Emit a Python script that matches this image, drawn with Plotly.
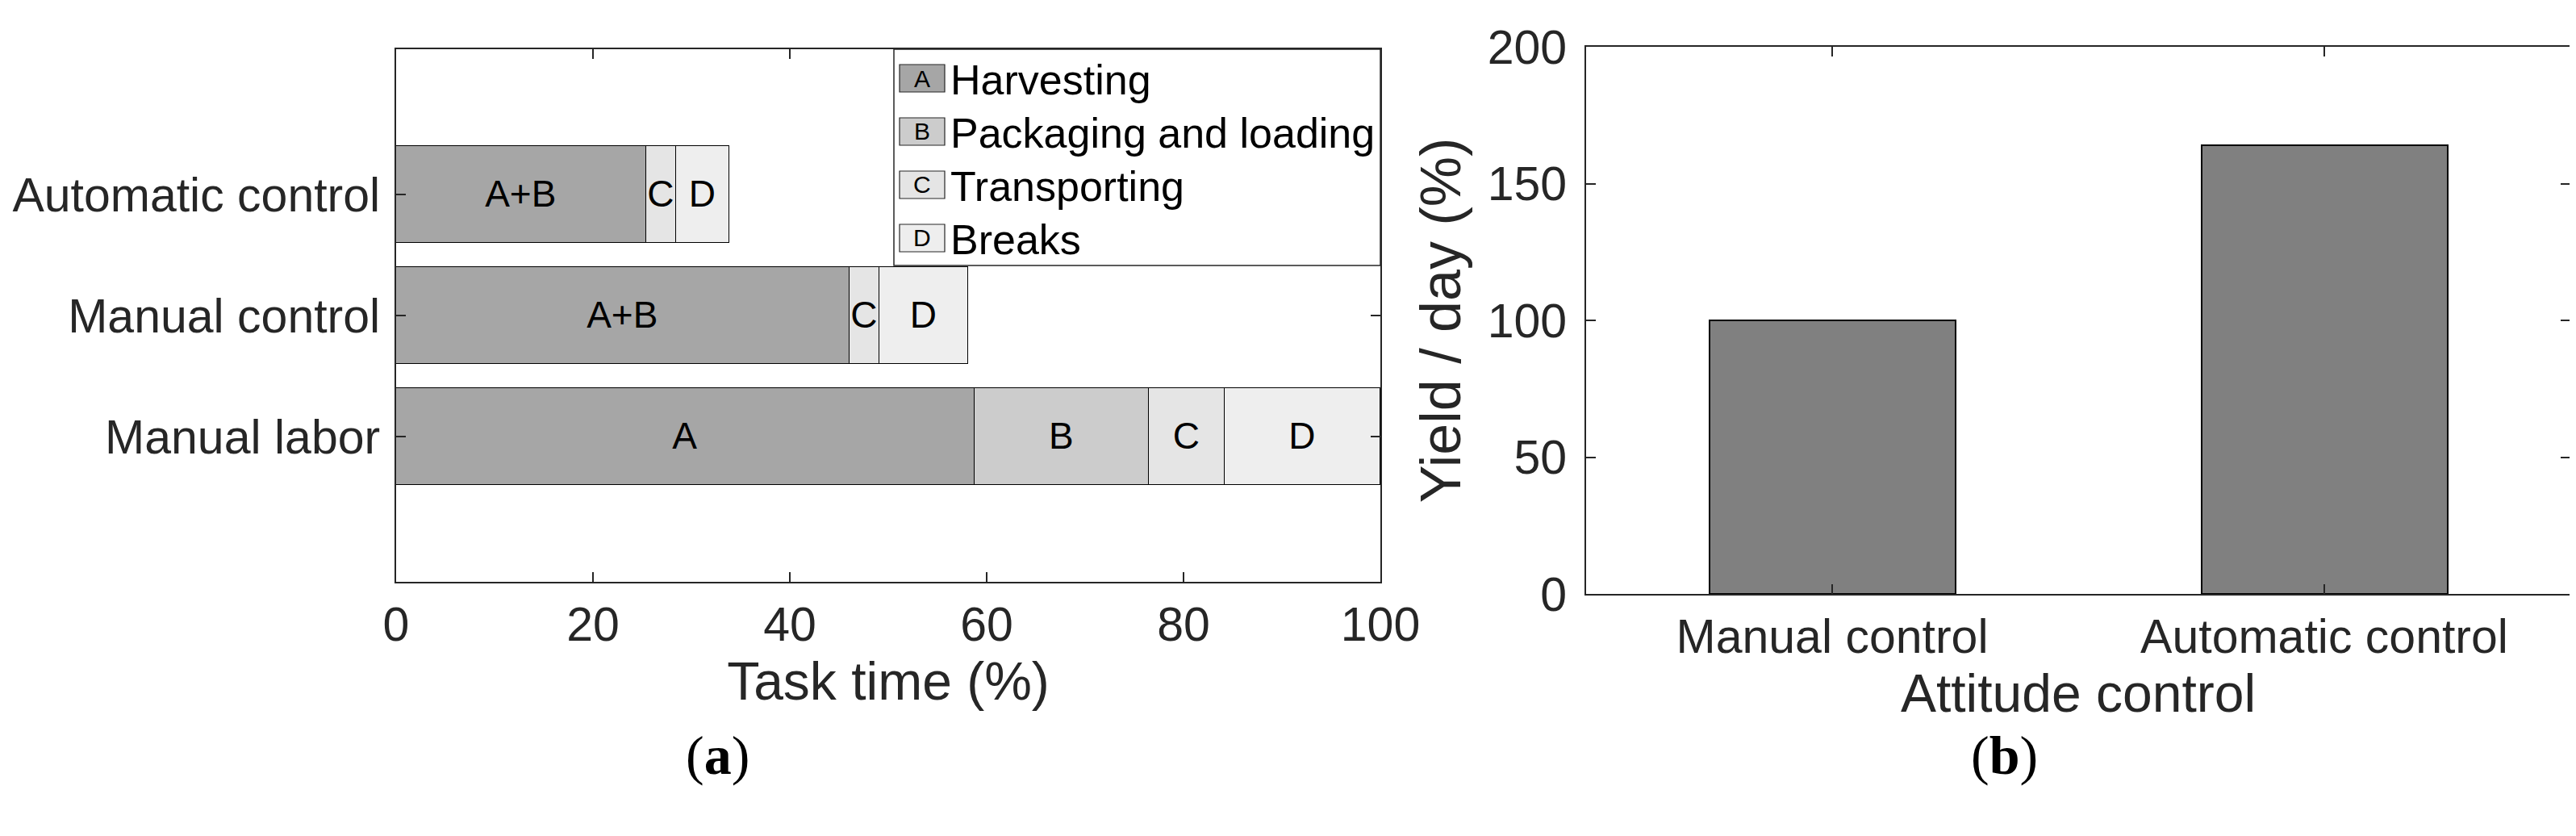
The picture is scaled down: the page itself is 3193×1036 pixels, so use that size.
import plotly.graph_objects as go
from plotly.subplots import make_subplots

# ---------------- data ----------------
rows_a = ["Manual labor", "Manual control", "Automatic control"]
row_pos_a = [1, 2, 3]
harvest = [58.8, 46.1, 25.4]          # A (or A+B when merged)
harvest_text = ["A", "A+B", "A+B"]
packaging_rows = [1]                  # B only exists for manual labor
packaging = [17.7]
packaging_text = ["B"]
transport = [7.7, 3.0, 3.05]          # C
transport_text = ["C", "C", "C"]
breaks = [15.8, 9.0, 5.4]             # D
breaks_text = ["D", "D", "D"]
x_ticks_a = [0, 20, 40, 60, 80, 100]

legend_letters = ["A", "B", "C", "D"]
legend_names = ["Harvesting", "Packaging and loading", "Transporting", "Breaks"]

cats_b = ["Manual control", "Automatic control"]
cat_pos_b = [1, 2]
yield_b = [100, 164]
y_ticks_b = [0, 50, 100, 150, 200]

# ---------------- styling ----------------
W, H = 3193, 1036
col_A, col_B, col_C, col_D = "#a6a6a6", "#cccccc", "#e5e5e5", "#eeeeee"
seg_colors = [col_A, col_B, col_C, col_D]
axis_col = "#262626"
FONT = "Liberation Sans, Arial, sans-serif"
SERIF = "Liberation Serif, Times New Roman, serif"

def px_x(p):
    return p / W

def px_y(p):
    return 1 - p / H

fig = make_subplots(rows=1, cols=2)

segs = [(harvest, row_pos_a, harvest_text, col_A),
        (packaging, packaging_rows, packaging_text, col_B),
        (transport, row_pos_a, transport_text, col_C),
        (breaks, row_pos_a, breaks_text, col_D)]
for vals, ys, txt, col in segs:
    fig.add_trace(go.Bar(
        x=vals, y=ys, orientation="h", width=0.8,
        marker=dict(color=col, line=dict(color="black", width=1.5)),
        text=txt, textposition="inside", insidetextanchor="middle",
        textangle=0, constraintext="none",
        insidetextfont=dict(family=FONT, size=46, color="black"),
        showlegend=False, hoverinfo="skip"), row=1, col=1)

fig.add_trace(go.Bar(
    x=cat_pos_b, y=yield_b, width=0.5,
    marker=dict(color="#808080", line=dict(color="black", width=2.5)),
    showlegend=False, hoverinfo="skip"), row=1, col=2)

axis_common = dict(showline=True, linecolor=axis_col, linewidth=2, mirror="ticks",
                   ticks="inside", ticklen=12, tickwidth=1.5, tickcolor=axis_col,
                   showgrid=False, zeroline=False, automargin=False,
                   tickfont=dict(family=FONT, size=59, color=axis_col))

fig.update_layout(
    width=W, height=H, autosize=False,
    margin=dict(l=0, r=0, t=0, b=0, pad=0),
    paper_bgcolor="white", plot_bgcolor="white",
    barmode="stack", bargap=0,
    font=dict(family=FONT, color=axis_col),
    xaxis=dict(domain=[px_x(483), px_x(1703)], range=[0, 100], tickvals=x_ticks_a,
               ticklabelstandoff=0,
               title=dict(text="Task time (%)", font=dict(family=FONT, size=66, color=axis_col),
                          standoff=2),
               **axis_common),
    yaxis=dict(domain=[px_y(713), px_y(53)], range=[-0.2, 4.2], tickvals=row_pos_a,
               ticktext=rows_a, ticklabelstandoff=6, **axis_common),
    xaxis2=dict(domain=[px_x(1958), px_x(3178)], range=[0.5, 2.5], tickvals=cat_pos_b,
                ticktext=cats_b, ticklabelstandoff=0,
                title=dict(text="Attitude control", font=dict(family=FONT, size=66, color=axis_col),
                           standoff=2),
                **axis_common),
    yaxis2=dict(domain=[px_y(728), px_y(50)], range=[0, 200], tickvals=y_ticks_b,
                ticklabelstandoff=10,
                title=dict(text="Yield / day (%)", font=dict(family=FONT, size=70, color=axis_col),
                           standoff=10),
                **axis_common),
)

# ---------------- custom legend ----------------
shapes = [dict(type="rect", xref="paper", yref="paper",
               x0=px_x(1100), x1=px_x(1703), y0=px_y(321), y1=px_y(53),
               fillcolor="white", line=dict(color=axis_col, width=1.5), layer="above")]
annotations = []
row_centers = [89, 155, 221, 287]
for i, (let, name) in enumerate(zip(legend_letters, legend_names)):
    cy = row_centers[i]
    shapes.append(dict(type="rect", xref="paper", yref="paper",
                       x0=px_x(1107), x1=px_x(1163), y0=px_y(cy + 17), y1=px_y(cy - 17),
                       fillcolor=seg_colors[i], line=dict(color=axis_col, width=1.2),
                       layer="above"))
    annotations.append(dict(xref="paper", yref="paper", x=px_x(1135), y=px_y(cy),
                            text=let, showarrow=False, xanchor="center", yanchor="middle",
                            font=dict(family=FONT, size=30, color="black")))
    annotations.append(dict(xref="paper", yref="paper", x=px_x(1168), y=px_y(cy + 2),
                            text=name, showarrow=False, xanchor="left", yanchor="middle",
                            font=dict(family=FONT, size=52, color="black")))

annotations.append(dict(xref="paper", yref="paper", x=px_x(882), y=px_y(928),
                        text="(<b>a</b>)", showarrow=False, xanchor="center", yanchor="middle",
                        font=dict(family=SERIF, size=68, color="black")))
annotations.append(dict(xref="paper", yref="paper", x=px_x(2476), y=px_y(928),
                        text="(<b>b</b>)", showarrow=False, xanchor="center", yanchor="middle",
                        font=dict(family=SERIF, size=68, color="black")))

fig.update_layout(shapes=shapes, annotations=annotations)

fig.write_html("out.html")
